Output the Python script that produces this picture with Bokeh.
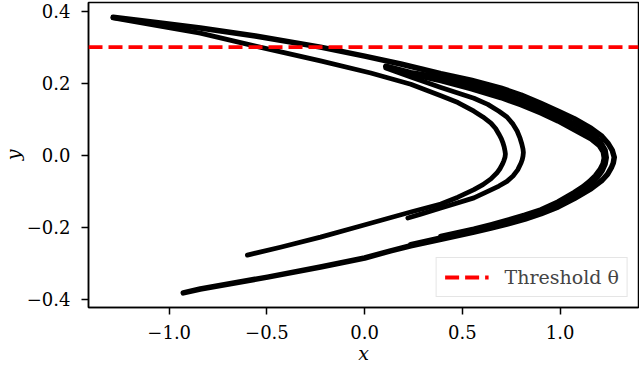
from bokeh.plotting import figure
from bokeh.models import Range1d, FixedTicker, Span, Legend, LegendItem
from bokeh.embed import file_html
from bokeh.resources import INLINE

# ---- data (strands of the attractor) ----
outer1_x = [-1.287, -1.046, -0.841, -0.559, -0.226, 0.000, 0.185, 0.390, 0.544, 0.697, 0.800, 0.903, 0.990,
            1.072, 1.159, 1.210, 1.246, 1.267, 1.277, 1.272, 1.262, 1.243, 1.215, 1.186, 1.159, 1.072, 0.990,
            0.903, 0.820, 0.733, 0.646, 0.559, 0.390, 0.236, 0.133, 0.000, -0.226, -0.497, -0.841, -0.928]
outer1_y = [0.383, 0.367, 0.353, 0.331, 0.300, 0.275, 0.253, 0.226, 0.208, 0.186, 0.167, 0.143, 0.122,
            0.101, 0.074, 0.054, 0.032, 0.013, -0.006, -0.022, -0.035, -0.053, -0.070, -0.082, -0.093, -0.121,
            -0.144, -0.163, -0.178, -0.191, -0.203, -0.214, -0.234, -0.252, -0.266, -0.286, -0.311, -0.339,
            -0.372, -0.383]

outer2_x = [0.108, 0.236, 0.390, 0.544, 0.697, 0.800, 0.903, 0.990, 1.072, 1.159, 1.205, 1.230, 1.236,
            1.230, 1.215, 1.190, 1.159, 1.120, 1.072, 0.990, 0.903, 0.820, 0.733, 0.646, 0.559, 0.390, 0.236]
outer2_y = [0.247, 0.229, 0.216, 0.196, 0.173, 0.153, 0.130, 0.108, 0.086, 0.060, 0.037, 0.014, -0.007,
            -0.025, -0.043, -0.062, -0.079, -0.095, -0.110, -0.136, -0.157, -0.172, -0.186, -0.198, -0.210,
            -0.230, -0.249]

outer3_x = [0.113, 0.236, 0.390, 0.544, 0.697, 0.800, 0.903, 0.990, 1.072, 1.159, 1.200, 1.221, 1.226,
            1.220, 1.205, 1.180, 1.150, 1.115, 1.072, 0.990, 0.903, 0.820, 0.733, 0.646, 0.559, 0.390]
outer3_y = [0.244, 0.225, 0.207, 0.185, 0.160, 0.140, 0.117, 0.095, 0.071, 0.045, 0.027, 0.009, -0.008,
            -0.024, -0.040, -0.058, -0.074, -0.089, -0.104, -0.130, -0.152, -0.167, -0.181, -0.194, -0.206,
            -0.226]

inner1_x = [-1.287, -1.046, -0.841, -0.559, -0.226, 0.031, 0.236, 0.390, 0.477, 0.559, 0.605, 0.646, 0.670,
            0.687, 0.699, 0.708, 0.714, 0.718, 0.720, 0.718, 0.712, 0.704, 0.692, 0.676, 0.646, 0.605, 0.559,
            0.477, 0.390, 0.236, -0.021, -0.226, -0.431, -0.600]
inner1_y = [0.381, 0.358, 0.339, 0.303, 0.262, 0.228, 0.197, 0.165, 0.146, 0.122, 0.106, 0.089, 0.074,
            0.058, 0.046, 0.033, 0.022, 0.011, 0.003, -0.006, -0.016, -0.026, -0.038, -0.050, -0.066, -0.082,
            -0.096, -0.117, -0.136, -0.158, -0.197, -0.228, -0.256, -0.278]

inner2_x = [0.108, 0.236, 0.390, 0.559, 0.630, 0.687, 0.728, 0.759, 0.780, 0.795, 0.804, 0.810, 0.812,
            0.810, 0.806, 0.800, 0.783, 0.759, 0.728, 0.687, 0.630, 0.559, 0.390, 0.287, 0.221]
inner2_y = [0.242, 0.217, 0.188, 0.158, 0.141, 0.122, 0.106, 0.086, 0.067, 0.047, 0.031, 0.017, 0.007,
            -0.003, -0.013, -0.022, -0.041, -0.058, -0.073, -0.086, -0.101, -0.119, -0.147, -0.164, -0.175]

threshold = 0.3
threshold_label = "Threshold θ"

x_ticks = [-1.0, -0.5, 0.0, 0.5, 1.0]
x_tick_labels = ["−1.0", "−0.5", "0.0", "0.5", "1.0"]
y_ticks = [-0.4, -0.2, 0.0, 0.2, 0.4]
y_tick_labels = ["−0.4", "−0.2", "0.0", "0.2", "0.4"]

FONT = "DejaVu Serif"
DASH = "14 6"

p = figure(width=647, height=368, output_backend="svg", toolbar_location=None,
           x_range=Range1d(-1.413, 1.401), y_range=Range1d(-0.4235, 0.424),
           min_border_left=96, min_border_right=1, min_border_top=2, min_border_bottom=61,
           margin=(0, 0, 0, -8))

p.xgrid.visible = False
p.ygrid.visible = False
p.outline_line_color = "black"
p.outline_line_width = 1.5
p.background_fill_color = "white"
p.border_fill_color = "white"

p.multi_line(xs=[outer1_x, outer2_x, outer3_x], ys=[outer1_y, outer2_y, outer3_y],
             line_color="black", line_width=5.5, line_cap="round", line_join="round")
p.multi_line(xs=[inner1_x, inner2_x], ys=[inner1_y, inner2_y],
             line_color="black", line_width=4.8, line_cap="round", line_join="round")

span = Span(location=threshold, dimension="width", line_color="red", line_width=3.8, line_dash=DASH)
p.add_layout(span)

# renderer used only for the legend sample (a single point draws no visible line)
dummy = p.line(x=[0.0], y=[threshold], line_color="red", line_width=3.8, line_dash=DASH)
legend = Legend(items=[LegendItem(label=threshold_label, renderers=[dummy])], location="bottom_right")
legend.border_line_color = "#cccccc"
legend.border_line_width = 1.5
legend.background_fill_alpha = 0.8
legend.label_text_font = FONT
legend.label_text_font_size = "19px"
legend.glyph_width = 44
legend.label_standoff = 16
legend.padding = 8
legend.margin = 10
p.add_layout(legend)

for ax, ticks, labels in ((p.xaxis[0], x_ticks, x_tick_labels), (p.yaxis[0], y_ticks, y_tick_labels)):
    ax.ticker = FixedTicker(ticks=ticks)
    ax.major_label_overrides = {t: l for t, l in zip(ticks, labels)}
    ax.axis_line_width = 1.5
    ax.major_tick_line_width = 1.5
    ax.major_tick_out = 7
    ax.major_tick_in = 0
    ax.minor_tick_out = 0
    ax.minor_tick_in = 0
    ax.major_label_text_font = FONT
    ax.major_label_text_font_size = "18px"
    ax.major_label_text_color = "black"
    ax.axis_label_text_font = FONT
    ax.axis_label_text_font_size = "19px"
    ax.axis_label_text_font_style = "italic"
    ax.axis_label_text_color = "black"

p.xaxis.axis_label = "x"
p.yaxis.axis_label = "y"
p.xaxis.major_label_standoff = 10
p.xaxis.axis_label_standoff = 0
p.yaxis.major_label_standoff = 11
p.yaxis.axis_label_standoff = 0

open("out.html", "w").write(file_html(p, INLINE))
